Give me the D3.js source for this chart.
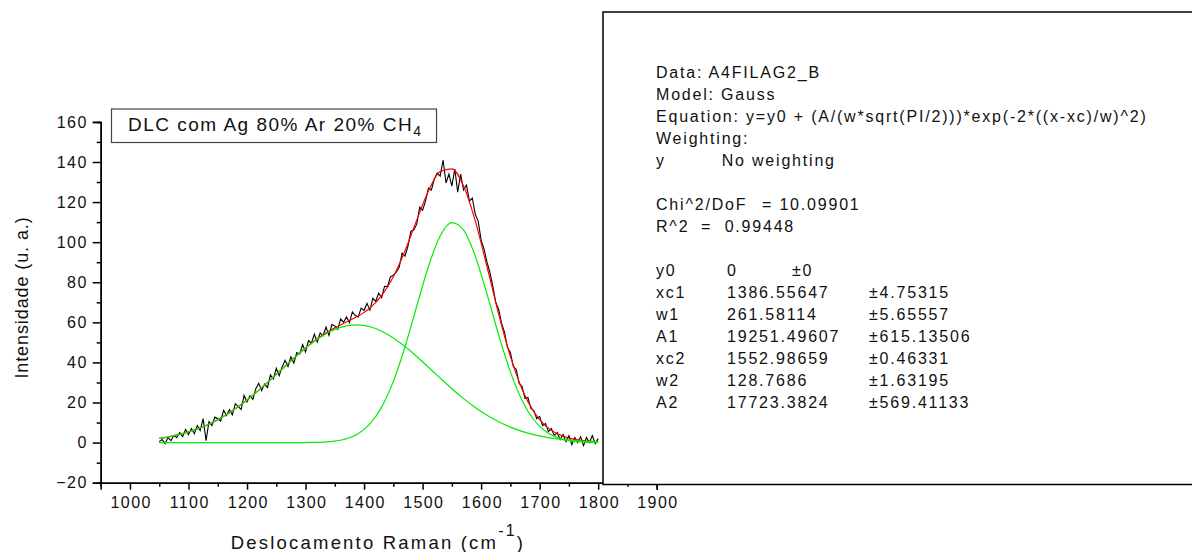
<!DOCTYPE html>
<html>
<head>
<meta charset="utf-8">
<script src="https://cdn.jsdelivr.net/npm/d3@7"></script>
<style>
	body { margin: 0; background: #fff; }
	svg { display: block; font-family: Arial, "Liberation Sans", sans-serif; }
	.axis path, .axis line { stroke: #000; stroke-width: 1.5; }
	.axis text { font-size: 16px; fill: #111; letter-spacing: 1.4px; }
</style>
</head>
<body>
<div id="chart"></div>
<script>
// measured spectrum (cm-1 / u. a.)
const ramanShift = [
	1050, 1055, 1060, 1065, 1070, 1075, 1080, 1085, 1090, 1095,
	1100, 1105, 1110, 1115, 1120, 1125, 1130, 1135, 1140, 1145,
	1150, 1155, 1160, 1165, 1170, 1175, 1180, 1185, 1190, 1195,
	1200, 1205, 1210, 1215, 1220, 1225, 1230, 1235, 1240, 1245,
	1250, 1255, 1260, 1265, 1270, 1275, 1280, 1285, 1290, 1295,
	1300, 1305, 1310, 1315, 1320, 1325, 1330, 1335, 1340, 1345,
	1350, 1355, 1360, 1365, 1370, 1375, 1380, 1385, 1390, 1395,
	1400, 1405, 1410, 1415, 1420, 1425, 1430, 1435, 1440, 1445,
	1450, 1455, 1460, 1465, 1470, 1475, 1480, 1485, 1490, 1495,
	1500, 1505, 1510, 1515, 1520, 1525, 1530, 1535, 1540, 1545,
	1550, 1555, 1560, 1565, 1570, 1575, 1580, 1585, 1590, 1595,
	1600, 1605, 1610, 1615, 1620, 1625, 1630, 1635, 1640, 1645,
	1650, 1655, 1660, 1665, 1670, 1675, 1680, 1685, 1690, 1695,
	1700, 1705, 1710, 1715, 1720, 1725, 1730, 1735, 1740, 1745,
	1750, 1755, 1760, 1765, 1770, 1775, 1780, 1785, 1790, 1795,
	1800
];
const intensity = [
	0.5, 1.5, -0.5, 2.5, 1.0, 3.5, 2.5, 5.0, 3.0, 6.5,
	4.0, 7.0, 4.5, 8.5, 6.0, 12.0, 1.0, 10.5, 8.5, 12.7,
	11.9, 10.8, 16.1, 13.5, 16.4, 13.9, 19.4, 17.9, 16.5, 23.6,
	20.3, 23.4, 21.6, 26.9, 29.6, 25.9, 29.2, 27.5, 33.8, 31.7,
	37.1, 33.4, 37.8, 41.1, 38.0, 42.8, 39.6, 44.9, 44.2, 48.9,
	45.2, 50.9, 49.6, 54.1, 50.2, 54.7, 53.3, 57.7, 53.5, 58.9,
	58.2, 56.5, 61.7, 60.0, 62.7, 59.9, 65.2, 63.4, 62.7, 67.1,
	66.0, 69.5, 66.1, 72.0, 70.5, 74.6, 72.3, 78.0, 77.8, 82.7,
	83.5, 85.0, 87.5, 94.5, 93.0, 98.0, 105.5, 106.0, 109.0, 117.5,
	116.0, 120.5, 127.0, 126.0, 131.5, 134.5, 133.0, 141.0, 129.5, 134.0,
	128.0, 136.5, 125.0, 134.0, 126.0, 128.5, 120.5, 122.0, 114.0, 110.5,
	101.0, 96.5, 90.0, 85.0, 78.0, 70.0, 66.5, 59.5, 55.0, 47.5,
	45.0, 38.0, 36.5, 29.5, 28.0, 22.0, 22.5, 17.0, 16.0, 12.0,
	13.0, 8.5, 9.5, 5.5, 7.0, 3.5, 5.0, 1.5, 4.0, 0.5,
	3.5, -1.0, 2.5, 0.0, 3.0, -1.5, 2.5, 0.0, 3.5, -0.5,
	2.0
];

// gaussian fit curves, read at the fit points
const fitShift = [
	1050, 1070, 1090, 1110, 1130, 1150, 1170, 1190, 1210, 1230,
	1250, 1270, 1290, 1310, 1330, 1350, 1370, 1390, 1410, 1430,
	1450, 1470, 1490, 1510, 1530, 1550, 1570, 1590, 1610, 1630,
	1650, 1670, 1690, 1710, 1730, 1750, 1770, 1790, 1800
];
const fitPeak1 = [
	2.14, 3.14, 4.49, 6.28, 8.57, 11.44, 14.91, 18.98, 23.61, 28.68,
	34.05, 39.47, 44.71, 49.47, 53.48, 56.47, 58.25, 58.70, 57.78, 55.57,
	52.20, 47.91, 42.95, 37.61, 32.18, 26.90, 21.96, 17.51, 13.65, 10.39,
	7.72, 5.61, 3.98, 2.76, 1.87, 1.24, 0.80, 0.50, 0.40
];
const fitPeak2 = [
	0, 0, 0, 0, 0, 0, 0, 0, 0, 0,
	0, 0.01, 0.03, 0.09, 0.27, 0.76, 1.94, 4.46, 9.32, 17.71,
	30.55, 47.85, 68.05, 87.88, 103.04, 109.70, 106.05, 93.10, 74.20, 53.71,
	35.29, 21.06, 11.41, 5.62, 2.51, 1.02, 0.37, 0.13, 0.07
];
const fitSum = [
	2.14, 3.14, 4.49, 6.28, 8.57, 11.44, 14.91, 18.98, 23.61, 28.68,
	34.05, 39.48, 44.74, 49.56, 53.75, 57.23, 60.19, 63.16, 67.10, 73.28,
	82.75, 95.76, 111.00, 125.49, 135.22, 136.60, 128.01, 110.61, 87.85, 64.10,
	43.01, 26.67, 15.39, 8.38, 4.38, 2.26, 1.17, 0.63, 0.47
];

// axes
const xDomain = [950, 1900];
const yDomain = [-20, 160];
const xMajorTicks = [1000, 1100, 1200, 1300, 1400, 1500, 1600, 1700, 1800, 1900];
const xMinorTicks = [950, 1050, 1150, 1250, 1350, 1450, 1550, 1650, 1750, 1850];
const yMajorTicks = [-20, 0, 20, 40, 60, 80, 100, 120, 140, 160];
const yMinorTicks = [-10, 10, 30, 50, 70, 90, 110, 130, 150];

// fit report
const reportHeader = [
	'Data: A4FILAG2_B',
	'Model: Gauss',
	'Equation: y=y0 + (A/(w*sqrt(PI/2)))*exp(-2*((x-xc)/w)^2)',
	'Weighting:'
];
const paramNames = ['y0', 'xc1', 'w1', 'A1', 'xc2', 'w2', 'A2'];
const paramValues = ['0', '1386.55647', '261.58114', '19251.49607', '1552.98659', '128.7686', '17723.3824'];
const paramErrors = ['±0', '±4.75315', '±5.65557', '±615.13506', '±0.46331', '±1.63195', '±569.41133'];

/** Gaussian fit plot with Origin style report box. */
class RamanFitChart {
	constructor(parentContainer) {
		this.parentContainer = parentContainer;
		this.dimensions = {
			width: 1192,
			height: 552,
			plot: { left: 100.7, right: 656.7, top: 121.9, bottom: 482.7 },
			report: { x: 603, y: 12, width: 640, height: 472.5 },
		};
		this._createVis();
	}

	_createVis() {
		const d = this.dimensions;
		this.svg = this.parentContainer.append('svg')
			.attr('width', d.width)
			.attr('height', d.height);

		this.x = d3.scaleLinear().domain(xDomain).range([d.plot.left, d.plot.right]);
		this.y = d3.scaleLinear().domain(yDomain).range([d.plot.bottom, d.plot.top]);

		this._drawAxes();
		this._drawLines();
		this._drawLegend();
		this._drawReport();
	}

	_drawAxes() {
		const d = this.dimensions;

		// minor ticks first, then the labelled ones
		this.svg.append('g').classed('axis', true)
			.attr('transform', `translate(0, ${d.plot.bottom})`)
			.call(d3.axisBottom(this.x).tickValues(xMinorTicks).tickSize(4).tickFormat(''));
		const xAxis = this.svg.append('g').classed('axis', true)
			.attr('transform', `translate(0, ${d.plot.bottom})`)
			.call(d3.axisBottom(this.x).tickValues(xMajorTicks).tickSize(7).tickPadding(7).tickFormat(d3.format('d')));
		xAxis.selectAll('text').attr('dx', '0.7px');

		this.svg.append('g').classed('axis', true)
			.attr('transform', `translate(${d.plot.left}, 0)`)
			.call(d3.axisLeft(this.y).tickValues(yMinorTicks).tickSize(4).tickFormat(''));
		this.svg.append('g').classed('axis', true)
			.attr('transform', `translate(${d.plot.left}, 0)`)
			.call(d3.axisLeft(this.y).tickValues(yMajorTicks).tickSize(8).tickPadding(5).tickFormat(d3.format('d')));

		// axis titles
		const xTitle = this.svg.append('text')
			.attr('x', 378)
			.attr('y', 549)
			.attr('text-anchor', 'middle')
			.style('font-size', '18.5px')
			.style('letter-spacing', '2.2px')
			.attr('fill', '#111');
		xTitle.append('tspan').text('Deslocamento Raman (cm');
		xTitle.append('tspan').attr('dy', -13).style('font-size', '16px').text('-1');
		xTitle.append('tspan').attr('dy', 13).text(')');

		this.svg.append('text')
			.attr('transform', `translate(28, 297.5) rotate(-90)`)
			.attr('text-anchor', 'middle')
			.style('font-size', '18px')
			.style('letter-spacing', '0.9px')
			.attr('fill', '#111')
			.text('Intensidade (u. a.)');
	}

	_drawLines() {
		const measured = d3.line()
			.x((v, i) => this.x(ramanShift[i]))
			.y(v => this.y(v));
		const fit = d3.line()
			.x((v, i) => this.x(fitShift[i]))
			.y(v => this.y(v))
			.curve(d3.curveMonotoneX);

		this.svg.append('path')
			.attr('d', measured(intensity))
			.attr('fill', 'none')
			.attr('stroke', '#000')
			.attr('stroke-width', 1.1);

		this.svg.append('path')
			.attr('d', fit(fitSum))
			.attr('fill', 'none')
			.attr('stroke', '#ff0000')
			.attr('stroke-width', 1.2);

		[fitPeak1, fitPeak2].forEach((peak) => {
			this.svg.append('path')
				.attr('d', fit(peak))
				.attr('fill', 'none')
				.attr('stroke', '#00ee00')
				.attr('stroke-width', 1.2);
		});
	}

	_drawLegend() {
		const frame = this.svg.append('rect')
			.attr('x', 111.5)
			.attr('y', 109)
			.attr('height', 33.5)
			.attr('fill', '#fff')
			.attr('stroke', '#444')
			.attr('stroke-width', 1.2);

		const label = this.svg.append('text')
			.attr('x', 128)
			.attr('y', 131)
			.style('font-size', '19px')
			.style('letter-spacing', '1.5px')
			.attr('fill', '#111');
		label.append('tspan').text('DLC com Ag 80% Ar 20% CH');
		label.append('tspan').attr('dy', 5).style('font-size', '14px').text('4');

		// frame sized to the label
		const box = label.node().getBBox();
		frame.attr('width', box.x + box.width + 14 - 111.5);
	}

	_drawReport() {
		const r = this.dimensions.report;
		this.svg.append('rect')
			.attr('x', r.x)
			.attr('y', r.y)
			.attr('width', r.width)
			.attr('height', r.height)
			.attr('fill', '#fff')
			.attr('stroke', '#000')
			.attr('stroke-width', 1.5);

		const lineHeight = 22;
		const firstLine = 78.3;
		const col = [656, 727, 869];
		const group = this.svg.append('g')
			.style('font-size', '16px')
			.style('letter-spacing', '1.8px')
			.attr('fill', '#111');
		const put = (x, row, txt) => group.append('text')
			.attr('x', x)
			.attr('y', firstLine + row * lineHeight)
			.attr('xml:space', 'preserve')
			.text(txt);

		reportHeader.forEach((t, i) => put(col[0], i, t));
		put(col[0], 4, 'y');
		put(721.7, 4, 'No weighting');
		put(col[0], 6, 'Chi^2/DoF');
		put(762, 6, '= 10.09901');
		put(col[0], 7, 'R^2');
		put(701, 7, '=  0.99448');

		paramNames.forEach((name, i) => {
			put(col[0], 9 + i, name);
			put(col[1], 9 + i, paramValues[i]);
			put(i === 0 ? 792 : col[2], 9 + i, paramErrors[i]);
		});
	}
}

new RamanFitChart(d3.select('#chart'));
</script>
</body>
</html>
